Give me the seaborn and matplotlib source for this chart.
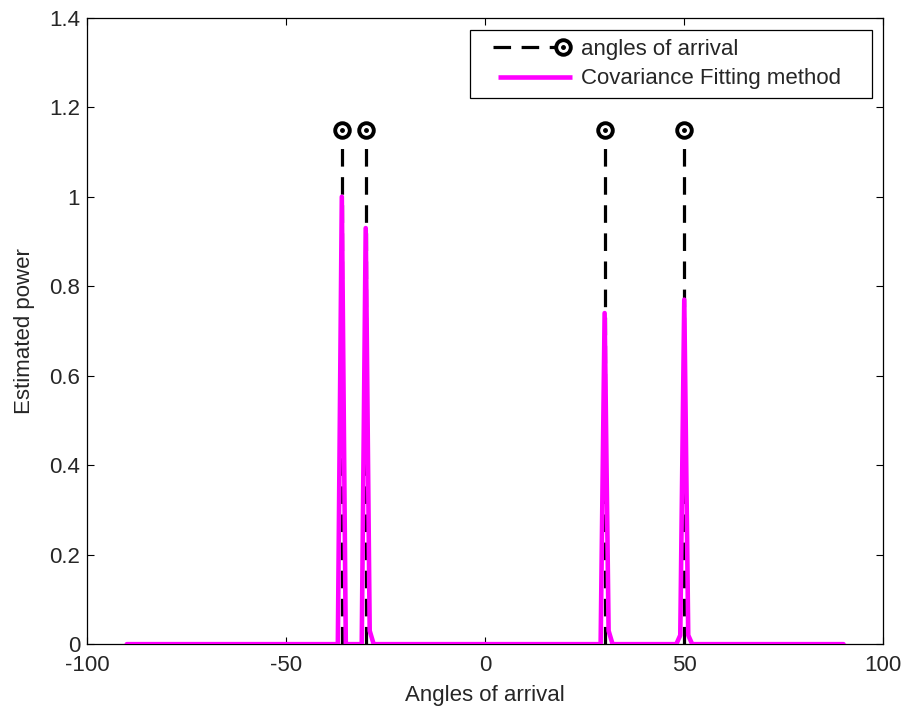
import numpy as np
import pandas as pd
import matplotlib
matplotlib.use("Agg")
import matplotlib.pyplot as plt
import seaborn as sns
from matplotlib.lines import Line2D
from matplotlib.legend_handler import HandlerBase
from matplotlib.ticker import FormatStrFormatter

# ---- data ----
true_angles = [-36, -30, 30, 50]
stem_height = [1.15, 1.15, 1.15, 1.15]
scan_angles = list(range(-90, 91))
# nonzero samples of the estimated spectrum (all other scan angles are 0)
peak_angles = [-36, -30, -29, 30, 31, 49, 50, 51]
peak_powers = [1.0, 0.93, 0.03, 0.74, 0.03, 0.02, 0.77, 0.02]
x_ticks = [-100, -50, 0, 50, 100]
y_ticks = [0, 0.2, 0.4, 0.6, 0.8, 1.0, 1.2, 1.4]

power = np.zeros(len(scan_angles))
for a, p in zip(peak_angles, peak_powers):
    power[scan_angles.index(a)] = p
df = pd.DataFrame({"angle": scan_angles, "power": power})

sns.set_theme(style="white")
plt.rcParams['font.family'] = ['Liberation Sans', 'DejaVu Sans']

FS = 16
MAG = '#ff00ff'
fig = plt.figure(figsize=(9.06, 7.11), dpi=100)
ax = fig.add_axes([0.096, 0.094, 0.879, 0.881])

dash = (0, (5.5, 3.3))
stem_lw = 2.3
# stems
ax.vlines(true_angles, 0, stem_height, colors='black', linestyles=dash, lw=stem_lw, zorder=2)
ax.plot(true_angles, stem_height, ls='none', marker='o', ms=10.5, mfc='white', mec='black', mew=2.8, zorder=4)
ax.plot(true_angles, stem_height, ls='none', marker='o', ms=2.5, color='black', zorder=5)

# spectrum
sns.lineplot(data=df, x="angle", y="power", ax=ax, color=MAG, lw=3.3, zorder=3, legend=False)

ax.set_xlim(-100, 100)
ax.set_ylim(0, 1.4)
ax.set_xticks(x_ticks)
ax.set_yticks(y_ticks)
ax.yaxis.set_major_formatter(FormatStrFormatter('%g'))
ax.xaxis.set_major_formatter(FormatStrFormatter('%g'))
ax.tick_params(direction='in', length=5, width=0.8, color='black', labelsize=FS,
               top=True, right=True, bottom=True, left=True, pad=5)
ax.tick_params(axis='x', pad=8)
for s in ax.spines.values():
    s.set_color('black')
    s.set_linewidth(0.9)
ax.set_xlabel("Angles of arrival", fontsize=FS, labelpad=6)
ax.set_ylabel("Estimated power", fontsize=FS, labelpad=10)


class StemHandler(HandlerBase):
    def create_artists(self, legend, orig_handle, xdescent, ydescent, width, height, fontsize, trans):
        y = height / 2 - ydescent
        x0 = -xdescent + 10
        x1 = width - xdescent - 8
        line = Line2D([x0, x1], [y, y], color='black', ls=dash, lw=stem_lw)
        ring = Line2D([x1], [y], ls='none', marker='o', ms=10.5, mfc='white', mec='black', mew=2.8)
        dot = Line2D([x1], [y], ls='none', marker='o', ms=2.5, color='black')
        for a in (line, ring, dot):
            a.set_transform(trans)
        return [line, ring, dot]


class LineHandler(HandlerBase):
    def create_artists(self, legend, orig_handle, xdescent, ydescent, width, height, fontsize, trans):
        y = height / 2 - ydescent
        line = Line2D([-xdescent + 14, width - xdescent - 2], [y, y], color=MAG, lw=3.3,
                      solid_capstyle='butt')
        line.set_transform(trans)
        return [line]


stem_handle = Line2D([], [], color='black')
spec_handle = Line2D([], [], color=MAG, lw=3.3)
leg = ax.legend([stem_handle, spec_handle], ["angles of arrival", "Covariance Fitting method"],
                handler_map={stem_handle: StemHandler(), spec_handle: LineHandler()},
                loc='upper left', bbox_to_anchor=(0.481, 0.981, 0.505, 0.0), mode='expand',
                fontsize=FS, handlelength=4.3, handletextpad=0.3, borderpad=0.4, labelspacing=0.4,
                fancybox=False, framealpha=1, edgecolor='black', borderaxespad=0)
leg.get_frame().set_linewidth(0.9)

fig.savefig("out.png", dpi=100, facecolor='white')
